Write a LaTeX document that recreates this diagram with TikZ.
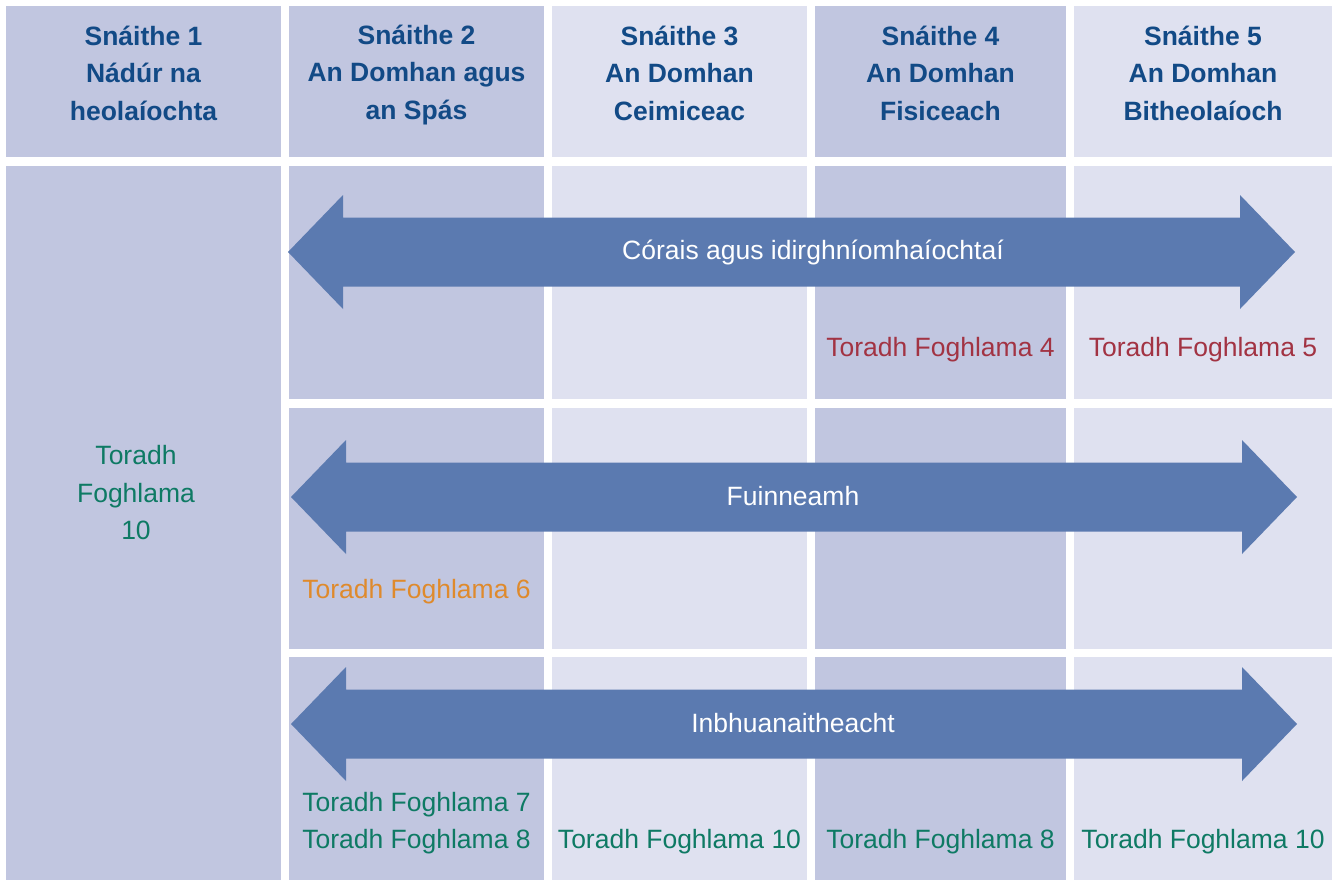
\documentclass[tikz,border=0pt]{standalone}
\usepackage{fontspec}
\setmainfont{Liberation Sans}
\definecolor{darkcell}{HTML}{C1C6E0}
\definecolor{lightcell}{HTML}{DFE1F0}
\definecolor{arrowc}{HTML}{5B7AB0}
\definecolor{hdrblue}{HTML}{124A86}
\definecolor{tfred}{HTML}{A23343}
\definecolor{tforange}{HTML}{DF8A2C}
\definecolor{tfgreen}{HTML}{0E7A64}
\newcommand{\dblarrow}[3]{\fill[arrowc] (#1,#3) -- ({#1+55},{#3-57}) -- ({#1+55},{#3-34.5}) -- ({#2-55},{#3-34.5}) -- ({#2-55},{#3-57}) -- (#2,#3) -- ({#2-55},{#3+57}) -- ({#2-55},{#3+34.5}) -- ({#1+55},{#3+34.5}) -- ({#1+55},{#3+57}) -- cycle;}
\tikzset{
  hdr/.style={align=center, text=hdrblue, inner sep=0pt, font=\fontsize{26.5}{37.5}\selectfont\bfseries},
  tf/.style={align=center, inner sep=0pt, font=\fontsize{26.5}{37.5}\selectfont},
  alabel/.style={text=white, inner sep=0pt, font=\fontsize{26.5}{37.5}\selectfont}
}
\begin{document}
\begin{tikzpicture}[x=1pt,y=-1pt]
\useasboundingbox (0,0) rectangle (1338,881);
\fill[white] (0,0) rectangle (1338,881);
% header cells
\fill[darkcell] (6,6) rectangle (281,157);
\fill[darkcell] (289,6) rectangle (544,157);
\fill[lightcell] (552,6) rectangle (807,157);
\fill[darkcell] (815,6) rectangle (1066,157);
\fill[lightcell] (1074,6) rectangle (1332,157);
% column 1 body
\fill[darkcell] (6,166) rectangle (281,880);
% body rows
\foreach \ya/\yb in {166/399, 408/649, 657/880}{
  \fill[darkcell] (289,\ya) rectangle (544,\yb);
  \fill[lightcell] (552,\ya) rectangle (807,\yb);
  \fill[darkcell] (815,\ya) rectangle (1066,\yb);
  \fill[lightcell] (1074,\ya) rectangle (1332,\yb);
}
% headers
\node[hdr] (h1) at (143.5,73) {Snáithe 1\\Nádúr na\\heolaíochta};
\node[hdr] (h2) at (416.5,75) {Snáithe 2\\An Domhan agus\\an Spás};
\node[hdr] (h3) at (679.5,73) {Snáithe 3\\An Domhan\\Ceimiceac};
\node[hdr] (h4) at (940.5,73) {Snáithe 4\\An Domhan\\Fisiceach};
\node[hdr] (h5) at (1203,73) {Snáithe 5\\An Domhan\\Bitheolaíoch};
% arrows
\dblarrow{288}{1295}{252}
\dblarrow{291}{1297}{497}
\dblarrow{291}{1297}{724}
\node[alabel] (a1) at (813,252) {Córais agus idirghníomhaíochtaí};
\node[alabel] (a2) at (793,496) {Fuinneamh};
\node[alabel] (a3) at (793,723) {Inbhuanaitheacht};
% outcomes
\node[tf, text=tfgreen] (t10a) at (136,493) {Toradh\\Foghlama\\10};
\node[tf, text=tfred] (t4) at (940.5,350) {Toradh Foghlama 4};
\node[tf, text=tfred] (t5) at (1203,350) {Toradh Foghlama 5};
\node[tf, text=tforange] (t6) at (416.5,592) {Toradh Foghlama 6};
\node[tf, text=tfgreen] (t78) at (416.5,823) {Toradh Foghlama 7\\Toradh Foghlama 8};
\node[tf, text=tfgreen] (t10b) at (679.5,842) {Toradh Foghlama 10};
\node[tf, text=tfgreen] (t8) at (940.5,842) {Toradh Foghlama 8};
\node[tf, text=tfgreen] (t10c) at (1203,842) {Toradh Foghlama 10};
\end{tikzpicture}
\end{document}
